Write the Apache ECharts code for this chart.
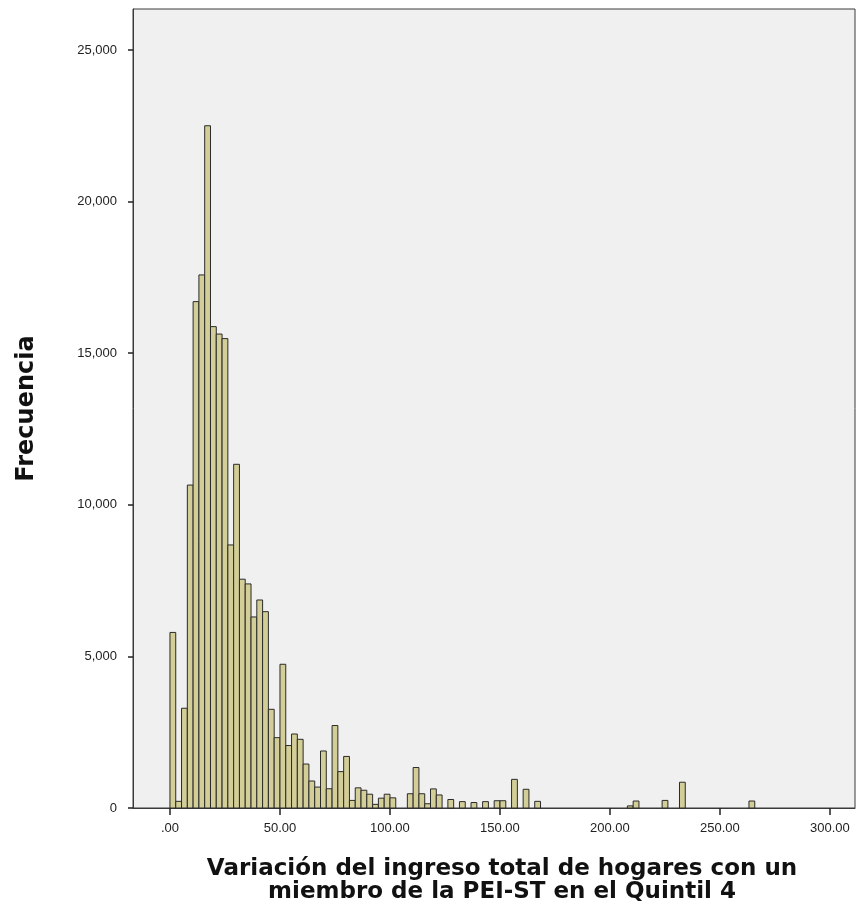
<!DOCTYPE html>
<html><head><meta charset="utf-8">
<script src="https://cdn.jsdelivr.net/npm/echarts@6/dist/echarts.min.js"></script>
<style>html,body{margin:0;padding:0;background:#fff}#c{width:867px;height:920px}</style>
</head><body><div id="c"></div>
<script>
// Histogram bins: bin i covers [binStart + i*binWidth, binStart + (i+1)*binWidth)
const binStart = 0;
const binWidth = 2.632;
const counts = [
  5790, 220, 3290, 10650, 16700, 17580, 22500, 15875, 15630, 15480,
  8675, 11335, 7545, 7390, 6300, 6860, 6475, 3255, 2320, 4740,
  2060, 2440, 2265, 1450, 890, 690, 1880, 635, 2720, 1200,
  1700, 250, 665, 585, 455, 120, 325, 455, 335, 0,
  0, 470, 1335, 470, 140, 630, 430, 0, 280, 0,
  210, 0, 180, 0, 210, 0, 240, 240, 0, 945,
  0, 617, 0, 220, 0, 0, 0, 0, 0, 0,
  0, 0, 0, 0, 0, 0, 0, 0, 0, 70,
  230, 0, 0, 0, 0, 250, 0, 0, 850, 0,
  0, 0, 0, 0, 0, 0, 0, 0, 0, 0,
  230
];
const xTickValues = [0, 50, 100, 150, 200, 250, 300];
const xTickLabels = ['.00', '50.00', '100.00', '150.00', '200.00', '250.00', '300.00'];
const yTickValues = [0, 5000, 10000, 15000, 20000, 25000];
const yTickLabels = ['0', '5,000', '10,000', '15,000', '20,000', '25,000'];
const xTitle = 'Variación del ingreso total de hogares con un\nmiembro de la PEI-ST en el Quintil 4';
const yTitle = 'Frecuencia';

const data = [];
counts.forEach((c, i) => {
  if (c > 0) data.push([binStart + i * binWidth, binStart + (i + 1) * binWidth, c]);
});

const chart = echarts.init(document.getElementById('c'), null, {renderer: 'canvas'});
const font = 'Liberation Sans';
const titleFont = 'DejaVu Sans';
chart.setOption({
  animation: false,
  textStyle: {fontFamily: font},
  grid: {left: 133, right: 12, top: 9, bottom: 112, show: true,
         backgroundColor: '#f0f0f0', borderColor: '#3a3a3a', borderWidth: 1},
  xAxis: {
    type: 'value', min: -16.8, max: 311.4,
    splitLine: {show: false},
    axisLine: {show: true, onZero: false, lineStyle: {color: '#3a3a3a', width: 1}},
    axisTick: {show: true, customValues: xTickValues, length: 7, lineStyle: {color: '#222', width: 1.5}},
    axisLabel: {customValues: xTickValues, margin: 14, color: '#222', fontSize: 13, fontFamily: font,
      fontWeight: 'normal', formatter: v => xTickLabels[xTickValues.indexOf(v)]},
    name: xTitle, nameLocation: 'middle', nameGap: 50,
    nameTextStyle: {fontSize: 23, fontWeight: 'bold', color: '#111', fontFamily: titleFont, lineHeight: 23,
      verticalAlign: 'top', padding: [0, 0, 0, 16]}
  },
  yAxis: {
    type: 'value', min: 0, max: 26350,
    splitLine: {show: false},
    axisLine: {show: true, onZero: false, lineStyle: {color: '#3a3a3a', width: 1}},
    axisTick: {show: true, customValues: yTickValues, length: 5, lineStyle: {color: '#222', width: 1.5}},
    axisLabel: {customValues: yTickValues, margin: 16, color: '#222', fontSize: 13, fontFamily: font,
      fontWeight: 'normal', formatter: v => yTickLabels[yTickValues.indexOf(v)]},
    name: yTitle, nameLocation: 'middle', nameGap: 94,
    nameTextStyle: {fontSize: 24, fontWeight: 'bold', color: '#111', fontFamily: titleFont}
  },
  series: [{
    type: 'custom',
    data: data,
    encode: {x: [0, 1], y: 2},
    renderItem: function (params, api) {
      const p0 = api.coord([api.value(0), api.value(2)]);
      const p1 = api.coord([api.value(1), 0]);
      return {
        type: 'rect',
        shape: {x: p0[0], y: p0[1], width: p1[0] - p0[0], height: p1[1] - p0[1]},
        style: {fill: '#d3ce97', stroke: '#2a2a2a', lineWidth: 1}
      };
    }
  }]
});
</script>
</body></html>
